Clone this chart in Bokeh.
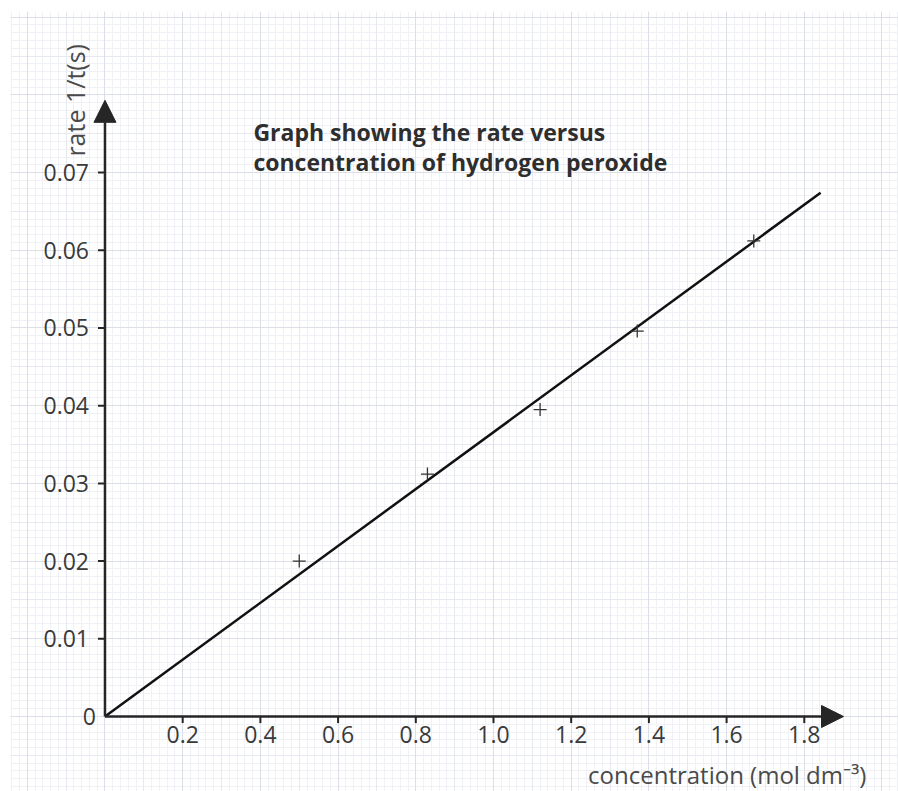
import numpy as np
from bokeh.plotting import figure
from bokeh.models import Grid, FixedTicker, Arrow, NormalHead, Label
from bokeh.core.properties import value
from bokeh.embed import file_html
from bokeh.resources import INLINE

# ---- data ----
concentration = [0.50, 0.83, 1.12, 1.37, 1.67]
rate = [0.0200, 0.0312, 0.0395, 0.0496, 0.0612]
fit_x = [0.0, 1.842]
fit_y = [0.0, 0.0674]
x_ticks = [0.2, 0.4, 0.6, 0.8, 1.0, 1.2, 1.4, 1.6, 1.8]
x_tick_labels = ["0.2", "0.4", "0.6", "0.8", "1.0", "1.2", "1.4", "1.6", "1.8"]
y_ticks = [0.01, 0.02, 0.03, 0.04, 0.05, 0.06, 0.07]
y_tick_labels = ["0.01", "0.02", "0.03", "0.04", "0.05", "0.06", "0.07"]
title_lines = ["Graph showing the rate versus", "concentration of hydrogen peroxide"]
x_label = "concentration (mol dm\u207b\u00b3)"
y_label = "rate 1/t(s)"

FONT = "Open Sans"

p = figure(width=898, height=791, output_backend="svg", toolbar_location=None,
           x_range=(-0.2432, 2.0425), y_range=(-0.009653, 0.09073),
           x_axis_location=None, y_axis_location=None,
           min_border_left=10, min_border_top=11, min_border_right=0, min_border_bottom=0)
p.background_fill_color = "white"
p.border_fill_color = "white"
p.outline_line_color = None
p.xgrid.visible = False
p.ygrid.visible = False

# graph-paper grid
minor_x = list(np.round(np.arange(-0.24, 2.05, 0.02), 4))
minor_y = list(np.round(np.arange(-0.009, 0.091, 0.001), 5))
mid_x = list(np.round(np.arange(-0.2, 2.05, 0.1), 4))
mid_y = list(np.round(np.arange(-0.005, 0.091, 0.005), 5))
major_x = list(np.round(np.arange(-0.2, 2.05, 0.2), 4))
major_y = list(np.round(np.arange(0.0, 0.091, 0.01), 5))
for xs, ys, col in [(minor_x, minor_y, "#f0f1f6"), (mid_x, mid_y, "#e7e9f0"), (major_x, major_y, "#dcdfe8")]:
    p.add_layout(Grid(dimension=0, ticker=FixedTicker(ticks=xs), grid_line_color=col, grid_line_width=1))
    p.add_layout(Grid(dimension=1, ticker=FixedTicker(ticks=ys), grid_line_color=col, grid_line_width=1))

# axes with arrow heads
AX = "#262626"
p.add_layout(Arrow(x_start=0, y_start=0, x_end=1.901, y_end=0, line_width=2.5, line_color=AX,
                   end=NormalHead(size=22, fill_color=AX, line_color=AX)))
p.add_layout(Arrow(x_start=0, y_start=0, x_end=0, y_end=0.0793, line_width=2.5, line_color=AX,
                   end=NormalHead(size=22, fill_color=AX, line_color=AX)))

# tick marks
xt_len = 0.00085
yt_len = 0.018
p.segment(x0=x_ticks, y0=[0] * len(x_ticks), x1=x_ticks, y1=[-xt_len] * len(x_ticks),
          line_color=AX, line_width=2)
p.segment(x0=[0] * len(y_ticks), y0=y_ticks, x1=[-yt_len] * len(y_ticks), y1=y_ticks,
          line_color=AX, line_width=2)

# tick labels
TL = "#3a3a3a"
p.text(x=x_ticks, y=[0] * len(x_ticks), text=x_tick_labels, text_align="center",
       text_baseline="top", y_offset=10, text_font=value(FONT), text_font_size="23px",
       text_color=TL)
p.text(x=[0] * len(y_ticks), y=y_ticks, text=y_tick_labels, text_align="right",
       text_baseline="middle", x_offset=-16, text_font=value(FONT), text_font_size="23px",
       text_color=TL)
p.text(x=[0], y=[0], text=["0"], text_align="right", text_baseline="middle", x_offset=-9,
       text_font=value(FONT), text_font_size="23px", text_color=TL)

# fitted line and data points
p.line(fit_x, fit_y, line_color="#111111", line_width=2.5)
p.scatter(concentration, rate, marker="cross", size=13, line_color="#333333", line_width=1.3)

# labels
p.add_layout(Label(x=1.960, y=-0.00742, text=x_label, text_align="right", text_baseline="middle",
                   text_font=FONT, text_font_size="24px", text_color="#4a4a4a"))
p.add_layout(Label(x=-0.0759, y=0.0793, text=y_label, angle=np.pi / 2, text_align="center",
                   text_baseline="middle", text_font=FONT, text_font_size="25px",
                   text_color="#4a4a4a"))
p.add_layout(Label(x=0.382, y=0.07516, text=title_lines[0], text_align="left",
                   text_baseline="alphabetic", text_font=FONT, text_font_size="23px",
                   text_font_style="bold", text_color="#2e2e2e"))
p.add_layout(Label(x=0.382, y=0.07130, text=title_lines[1], text_align="left",
                   text_baseline="alphabetic", text_font=FONT, text_font_size="23px",
                   text_font_style="bold", text_color="#2e2e2e"))

open("out.html", "w").write(file_html(p, INLINE))
